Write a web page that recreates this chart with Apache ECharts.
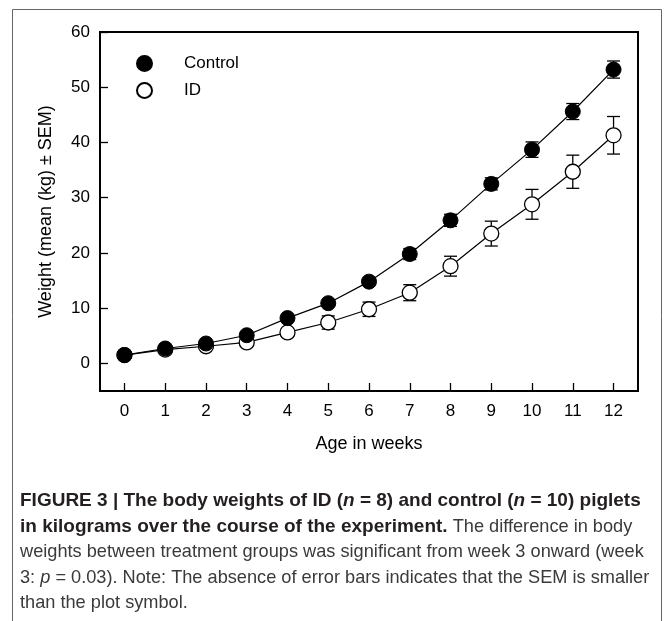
<!DOCTYPE html>
<html>
<head>
<meta charset="utf-8">
<script src="https://cdn.jsdelivr.net/npm/echarts@6/dist/echarts.min.js"></script>
<style>
html,body{margin:0;padding:0;background:#fff;}
#c{width:667px;height:621px;}
</style>
</head>
<body>
<div id="c"></div>
<script>
var weeks = [0,1,2,3,4,5,6,7,8,9,10,11,12];
var controlMean = [1.5, 2.7, 3.6, 5.1, 8.2, 10.9, 14.8, 19.8, 25.9, 32.5, 38.7, 45.6, 53.2];
var controlSEM  = [0.2, 0.2, 0.3, 0.3, 0.4, 0.5, 0.7, 1.0, 1.1, 1.1, 1.4, 1.45, 1.55];
var idMean = [1.5, 2.5, 3.1, 3.8, 5.6, 7.4, 9.8, 12.8, 17.6, 23.5, 28.8, 34.7, 41.3];
var idSEM  = [0.2, 0.3, 0.4, 0.5, 0.7, 1.2, 1.3, 1.45, 1.8, 2.25, 2.7, 3.0, 3.4];
var xTicks = [0,1,2,3,4,5,6,7,8,9,10,11,12];
var yTicks = [0,10,20,30,40,50,60];
var seriesNames = ['Control','ID'];
var yTitle = 'Weight (mean (kg) \u00b1 SEM)';
var xTitle = 'Age in weeks';

var FONT = '"Liberation Sans Narrow", "Arial Narrow", "Liberation Sans", Arial, sans-serif';
var CAP = '"Liberation Sans", Arial, Helvetica, sans-serif';

function pts(m){ return weeks.map(function(w,i){ return [w, m[i]]; }); }
function errData(m,s){ return weeks.map(function(w,i){ return [w, m[i]-s[i], m[i]+s[i]]; }); }

function errRender(params, api){
  var x = api.value(0);
  var lo = api.coord([x, api.value(1)]);
  var hi = api.coord([x, api.value(2)]);
  var hw = 6.5;
  var st = {stroke:'#000', lineWidth:1.3};
  return {type:'group', children:[
    {type:'line', shape:{x1:lo[0],y1:lo[1],x2:hi[0],y2:hi[1]}, style:st},
    {type:'line', shape:{x1:lo[0]-hw,y1:lo[1],x2:lo[0]+hw,y2:lo[1]}, style:st},
    {type:'line', shape:{x1:hi[0]-hw,y1:hi[1],x2:hi[0]+hw,y2:hi[1]}, style:st}
  ]};
}

var B = {fontFamily:CAP, fontWeight:'bold', fontSize:19, fill:'#231f20'};
var BI = {fontFamily:CAP, fontWeight:'bold', fontStyle:'italic', fontSize:19, fill:'#231f20'};
var R = {fontFamily:CAP, fontSize:18.2, fill:'#3a3a3a'};
var RI = {fontFamily:CAP, fontStyle:'italic', fontSize:18.2, fill:'#3a3a3a'};
function capLine(y, text){
  return {type:'text', x:20, y:y, silent:true, style:{text:text, verticalAlign:'middle', align:'left', rich:{b:B, bi:BI, r:R, i:RI}}};
}

var chart = echarts.init(document.getElementById('c'), null, {renderer:'canvas'});
var option = {
  backgroundColor:'#fff',
  animation:false,
  grid:{left:100, top:32, right:29, bottom:230, show:true, borderColor:'#000', borderWidth:2, backgroundColor:'transparent'},
  legend:{
    orient:'vertical', left:131, top:50, itemWidth:15, itemHeight:15, itemGap:10,
    textStyle:{fontFamily:FONT, fontSize:17, color:'#000', padding:[0,0,0,27]},
    data:[{name:seriesNames[0], icon:'circle'},{name:seriesNames[1], icon:'circle'}]
  },
  xAxis:{
    type:'value', min:-0.6, max:12.6,
    name:xTitle, nameLocation:'middle', nameGap:44,
    nameTextStyle:{fontFamily:FONT, fontSize:18, color:'#000'},
    axisLine:{show:false, onZero:false},
    axisTick:{show:true, inside:true, length:8, lineStyle:{color:'#000', width:1.3}, customValues:xTicks},
    axisLabel:{show:true, margin:12, fontFamily:FONT, fontSize:17, color:'#000', customValues:xTicks},
    splitLine:{show:false}
  },
  yAxis:{
    type:'value', min:-5, max:60,
    name:yTitle, nameLocation:'middle', nameGap:45, nameRotate:90,
    nameTextStyle:{fontFamily:FONT, fontSize:18, color:'#000'},
    axisLine:{show:false, onZero:false},
    axisTick:{show:true, inside:true, length:8, lineStyle:{color:'#000', width:1.3}, customValues:yTicks},
    axisLabel:{show:true, margin:10, fontFamily:FONT, fontSize:17, color:'#000', customValues:yTicks},
    splitLine:{show:false}
  },
  series:[
    {type:'custom', name:'ctrlErr', renderItem:errRender, data:errData(controlMean,controlSEM), z:1, silent:true},
    {type:'custom', name:'idErr', renderItem:errRender, data:errData(idMean,idSEM), z:1, silent:true},
    {type:'line', name:seriesNames[1], data:pts(idMean), symbol:'circle', symbolSize:15, z:3,
      lineStyle:{color:'#000', width:1.2}, itemStyle:{color:'#fff', borderColor:'#000', borderWidth:1.3}},
    {type:'line', name:seriesNames[0], data:pts(controlMean), symbol:'circle', symbolSize:15, z:4,
      lineStyle:{color:'#000', width:1.2}, itemStyle:{color:'#000', borderColor:'#000', borderWidth:1}}
  ],
  graphic:[
    {type:'rect', shape:{x:12.5, y:9.5, width:649, height:640}, style:{fill:'none', stroke:'#666', lineWidth:1}, silent:true},
    capLine(501, '{b|FIGURE 3 | The body weights of ID (}{bi|n}{b| = 8) and control (}{bi|n}{b| = 10) piglets}'),
    capLine(526.5, '{b|in kilograms over the course of the experiment.}{r| The difference in body}'),
    capLine(552, '{r|weights between treatment groups was significant from week 3 onward (week}'),
    capLine(577.5, '{r|3: }{i|p}{r| = 0.03). Note: The absence of error bars indicates that the SEM is smaller}'),
    capLine(603, '{r|than the plot symbol.}')
  ]
};
chart.setOption(option);
</script>
</body>
</html>
